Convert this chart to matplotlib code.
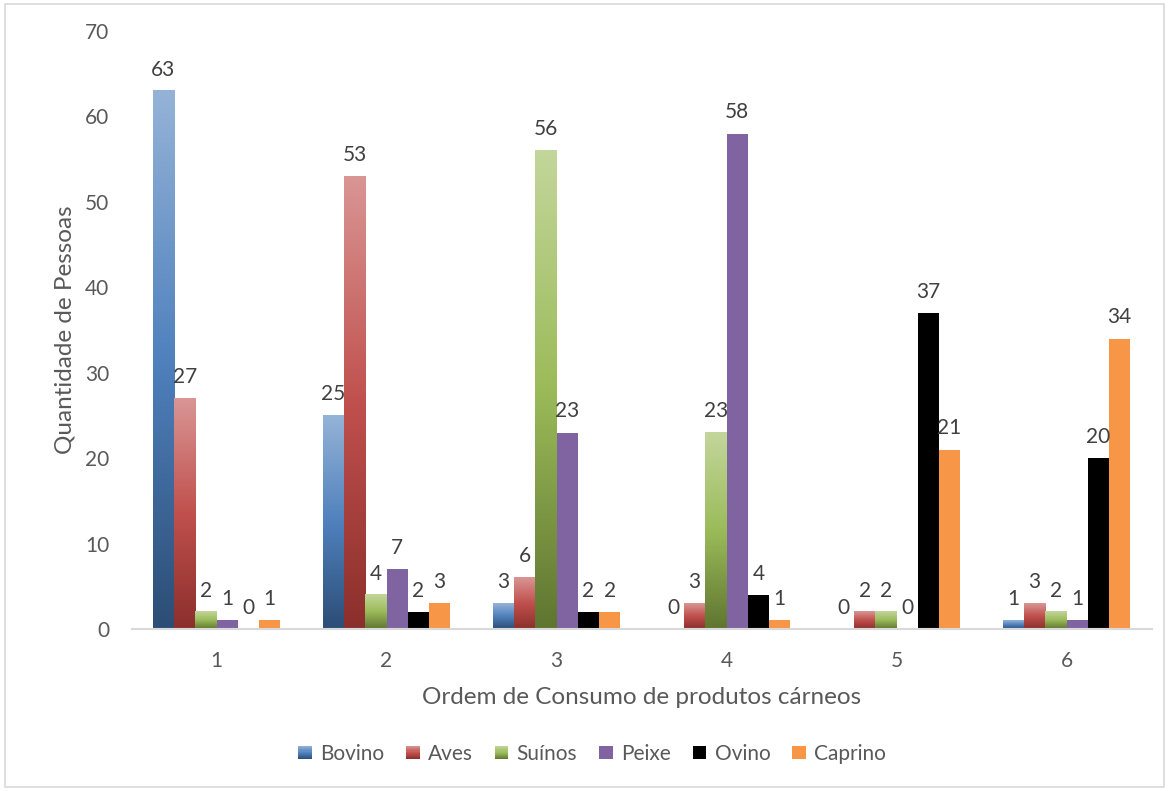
import numpy as np
import matplotlib
matplotlib.use("Agg")
import matplotlib.pyplot as plt
from matplotlib.colors import LinearSegmentedColormap
from matplotlib.patches import Rectangle
from matplotlib.legend_handler import HandlerBase

plt.rcParams['font.family'] = ['Lato', 'DejaVu Sans']

# Consumption order (x categories) and number of people per meat type
ordem = ["1", "2", "3", "4", "5", "6"]
bovino = [63, 25, 3, 0, 0, 1]
aves = [27, 53, 6, 3, 2, 3]
suinos = [2, 4, 56, 23, 2, 2]
peixe = [1, 7, 23, 58, 0, 1]
ovino = [0, 2, 2, 4, 37, 20]
caprino = [1, 3, 2, 1, 21, 34]

series_names = ["Bovino", "Aves", "Suínos", "Peixe", "Ovino", "Caprino"]
series_values = [bovino, aves, suinos, peixe, ovino, caprino]

# (dark bottom, base middle, light top) for gradient series; others are flat colours
gradients = {
    "Bovino": ("#2C4D75", "#4F81BD", "#95B3D7"),
    "Aves": ("#8B2F2C", "#C0504D", "#D99694"),
    "Suínos": ("#5F7530", "#9BBB59", "#C3D69B"),
}
flat_colors = {"Peixe": "#8064A2", "Ovino": "#000000", "Caprino": "#F79646"}

W, H = 1169, 791
fig = plt.figure(figsize=(W / 100, H / 100), dpi=100)
fig.patch.set_facecolor("white")
ax = fig.add_axes([131.5 / W, 1 - 629 / H, 1020 / W, 598 / H])

x = np.arange(len(ordem))
n = len(series_names)
bar_w = 0.75 / n
text_col = "#595959"
label_col = "#404040"

for i, (name, vals) in enumerate(zip(series_names, series_values)):
    offs = x + (i - (n - 1) / 2) * bar_w
    if name in gradients:
        bars = ax.bar(offs, vals, width=bar_w, color="none", edgecolor="none", zorder=2)
        cmap = LinearSegmentedColormap.from_list(name, gradients[name])
        grad = np.linspace(0, 1, 256).reshape(-1, 1)
        for b in bars:
            h = b.get_height()
            if h <= 0:
                continue
            x0 = b.get_x()
            ax.imshow(grad, cmap=cmap, origin="lower", aspect="auto",
                      extent=(x0, x0 + b.get_width(), 0, h), zorder=2,
                      interpolation="bilinear")
    else:
        bars = ax.bar(offs, vals, width=bar_w, color=flat_colors[name],
                      edgecolor="none", zorder=2)
    for b, v in zip(bars, vals):
        ax.annotate(f"{v}", (b.get_x() + b.get_width() / 2, b.get_height()),
                    xytext=(0, 11), textcoords="offset points",
                    ha="center", va="baseline", fontsize=15, color=label_col)

ax.set_xlim(-0.5, len(ordem) - 0.5)
ax.set_ylim(0, 70)
ax.set_yticks(np.arange(0, 71, 10))
ax.set_xticks(x)
ax.set_xticklabels(ordem)
ax.tick_params(axis="both", length=0, labelsize=15, colors=text_col)
ax.tick_params(axis="y", pad=16)
ax.tick_params(axis="x", pad=16)
for s in ["top", "right", "left"]:
    ax.spines[s].set_visible(False)
ax.spines["bottom"].set_color("#D9D9D9")
ax.spines["bottom"].set_linewidth(1.5)
ax.spines["bottom"].set_zorder(3)

ax.set_xlabel("Ordem de Consumo de produtos cárneos", fontsize=17.5, color=text_col, labelpad=11)
ax.set_ylabel("Quantidade de Pessoas", fontsize=17.5, color=text_col, labelpad=7)


class GradientHandler(HandlerBase):
    def __init__(self, colors):
        super().__init__()
        self.colors = colors

    def create_artists(self, legend, orig_handle, xdescent, ydescent, width, height, fontsize, trans):
        size = min(width, height)
        x0 = -xdescent + (width - size) / 2
        y0 = -ydescent + (height - size) / 2
        arts = []
        if self.colors is None:
            arts.append(Rectangle((x0, y0), size, size, facecolor=orig_handle.get_facecolor(),
                                  edgecolor="none", transform=trans))
            return arts
        cmap = LinearSegmentedColormap.from_list("g", self.colors)
        steps = 12
        for k in range(steps):
            arts.append(Rectangle((x0, y0 + size * k / steps), size, size / steps + 0.05,
                                  facecolor=cmap((k + 0.5) / steps), edgecolor="none",
                                  transform=trans))
        return arts


handles = []
handler_map = {}
for name in series_names:
    base = gradients[name][1] if name in gradients else flat_colors[name]
    r = Rectangle((0, 0), 1, 1, facecolor=base)
    handles.append(r)
    handler_map[r] = GradientHandler(gradients.get(name))

leg = fig.legend(handles, series_names, handler_map=handler_map, loc="center",
                 bbox_to_anchor=(592 / W, 1 - 754 / H), ncol=6, frameon=False,
                 fontsize=15, handlelength=0.65, handleheight=0.65,
                 handletextpad=0.4, columnspacing=1.05)
for t in leg.get_texts():
    t.set_color(text_col)

# chart area border
fig.add_artist(Rectangle((5 / W, 4 / H), (W - 10) / W, (H - 8) / H, transform=fig.transFigure,
                         facecolor="none", edgecolor="#D9D9D9", linewidth=1.2))

fig.savefig("out.png", dpi=100, facecolor="white")
